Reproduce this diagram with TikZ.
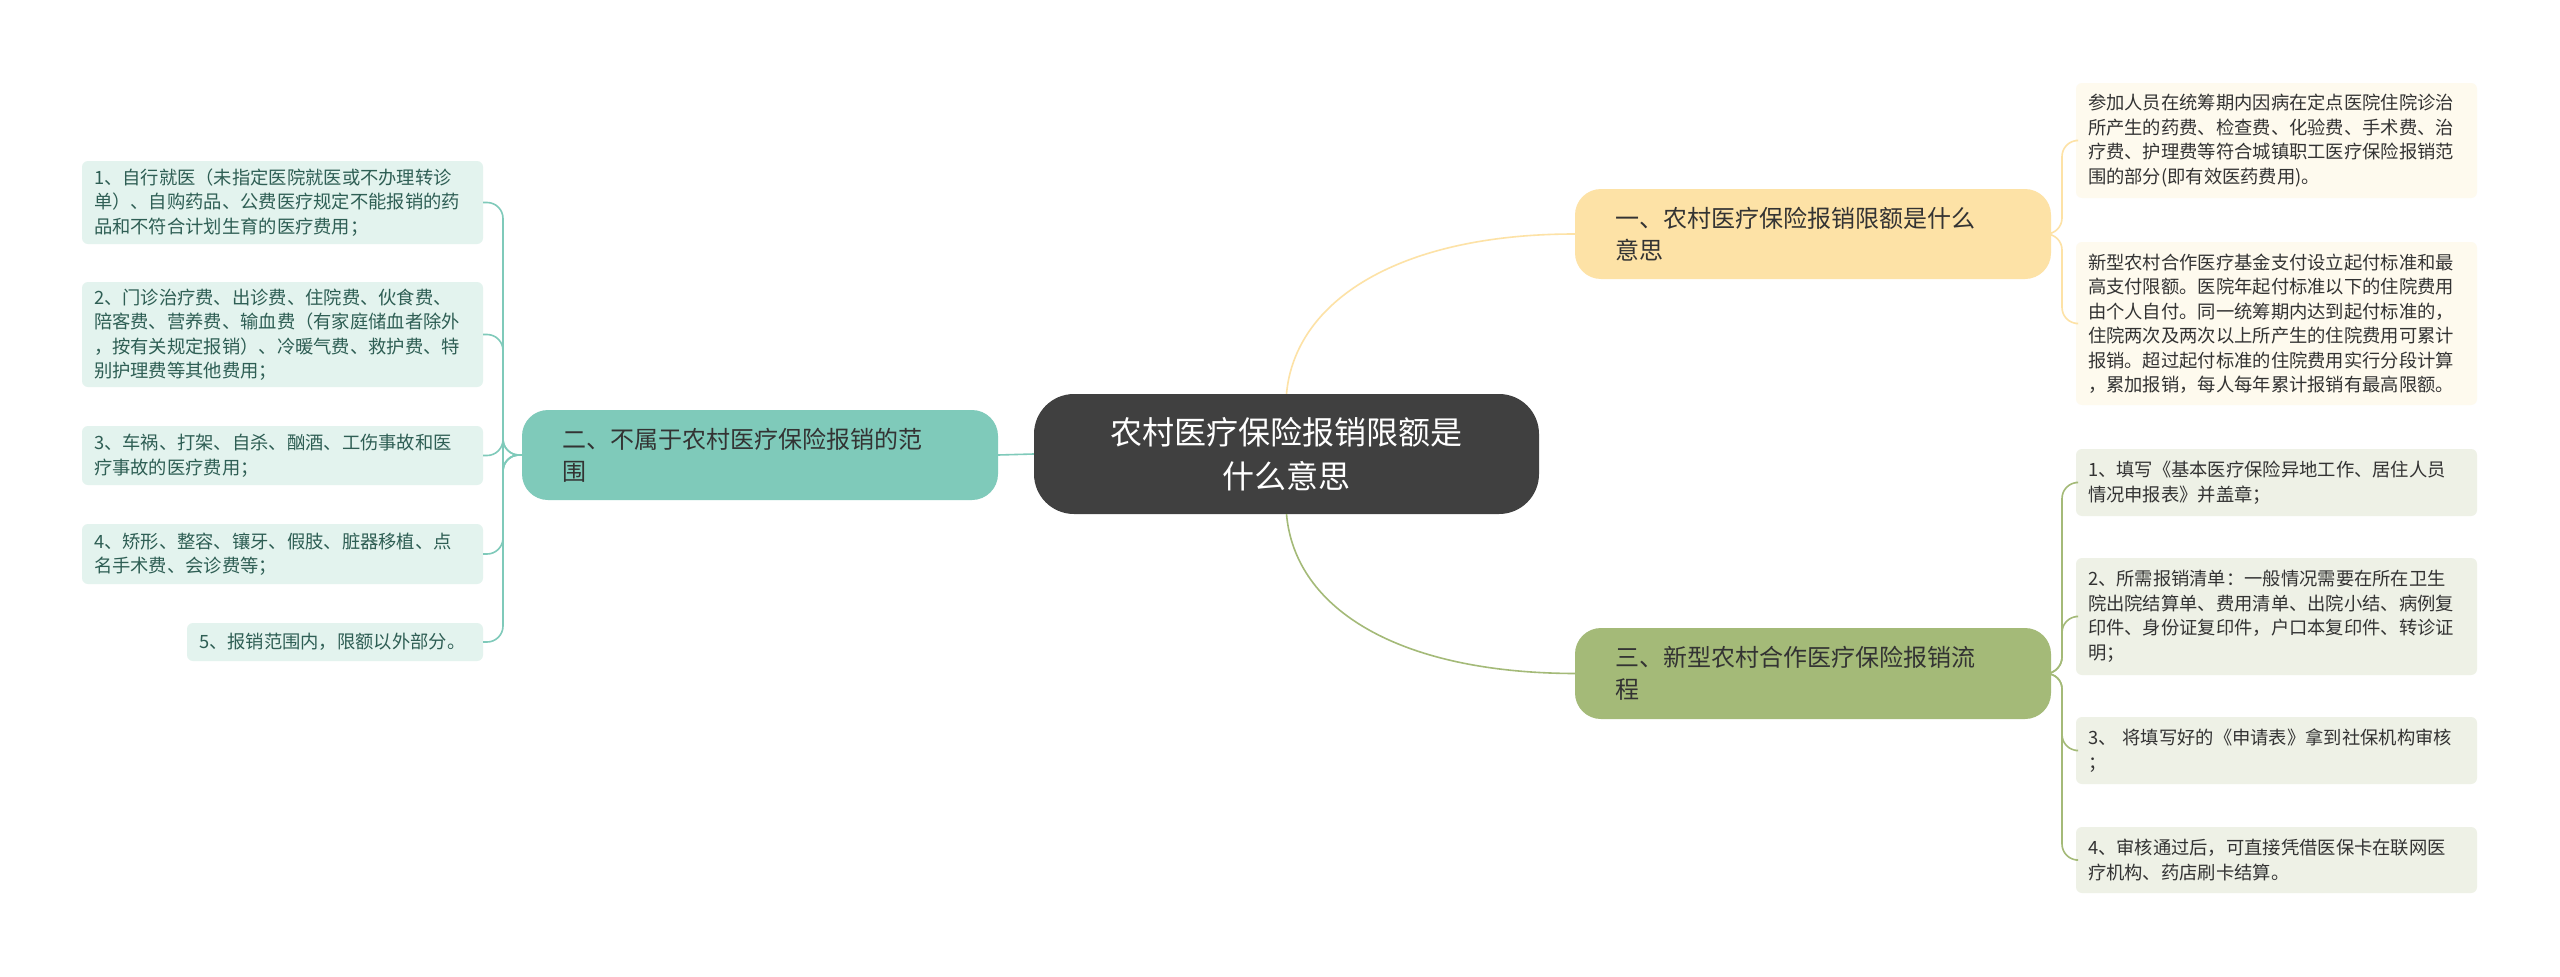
\documentclass[tikz,border=0pt]{standalone}
\usepackage{fontspec}
\setmainfont{Noto Sans CJK SC}
\begin{document}
\begin{tikzpicture}[x=1pt,y=-1pt,
  leaf/.style={rounded corners=6pt, inner sep=0pt, font=\fontsize{18.3}{24.5}\selectfont, align=left},
  lleaf/.style={leaf, fill=lfill, text=ltext},
  r1leaf/.style={leaf, fill=r1fill, text=dtext},
  r3leaf/.style={leaf, fill=r3fill, text=dtext},
  branch/.style={rounded corners=26pt, inner sep=0pt, font=\fontsize{24}{32}\selectfont, align=left},
  conn/.style={line width=1.6pt}]
\definecolor{lfill}{HTML}{E3F3EE}
\definecolor{ltext}{HTML}{2E5E54}
\definecolor{r1fill}{HTML}{FEFAEE}
\definecolor{r3fill}{HTML}{EEF1E6}
\definecolor{dtext}{HTML}{333333}
\definecolor{teal}{HTML}{7FCABA}
\definecolor{peach}{HTML}{FDE2A6}
\definecolor{olive}{HTML}{A4BA78}
\definecolor{cdark}{HTML}{404040}
\useasboundingbox[fill=white] (0,0) rectangle (2560,977);
\newcommand{\bx}[7]{\node[#1, minimum width=#4-#2, minimum height=#5-#3, text width=#4-#2-#7] (#6) at ({(#2+#4)/2},{(#3+#5)/2})}
% center
\node[branch, fill=cdark, text=white, minimum width=505, minimum height=120, rounded corners=40pt, align=center, font=\fontsize{32}{44}\selectfont] (c) at (1286.5,454) {农村医疗保险报销限额是\\什么意思};
% branches
\bx{branch, fill=teal, text=dtext}{522}{410}{998}{500}{lb}{80} {二、不属于农村医疗保险报销的范\\围};
\bx{branch, fill=peach, text=dtext}{1575}{189}{2051}{279}{b1}{80} {一、农村医疗保险报销限额是什么\\意思};
\bx{branch, fill=olive, text=dtext}{1575}{628}{2051}{719}{b3}{80} {三、新型农村合作医疗保险报销流\\程};
% left leaves
\bx{lleaf}{82}{161}{483}{244}{l1}{24} {1、自行就医（未指定医院就医或不办理转诊\\单）、自购药品、公费医疗规定不能报销的药\\品和不符合计划生育的医疗费用；};
\bx{lleaf}{82}{282}{483}{387}{l2}{24} {2、门诊治疗费、出诊费、住院费、伙食费、\\陪客费、营养费、输血费（有家庭储血者除外\\，按有关规定报销）、冷暖气费、救护费、特\\别护理费等其他费用；};
\bx{lleaf}{82}{426}{483}{485}{l3}{24} {3、车祸、打架、自杀、酗酒、工伤事故和医\\疗事故的医疗费用；};
\bx{lleaf}{82}{524}{483}{584}{l4}{24} {4、矫形、整容、镶牙、假肢、脏器移植、点\\名手术费、会诊费等；};
\bx{lleaf}{187}{623}{483}{661}{l5}{24} {5、报销范围内，限额以外部分。};
% right leaves
\bx{r1leaf}{2076}{83}{2477}{198}{ra}{24} {参加人员在统筹期内因病在定点医院住院诊治\\所产生的药费、检查费、化验费、手术费、治\\疗费、护理费等符合城镇职工医疗保险报销范\\围的部分(即有效医药费用)。};
\bx{r1leaf}{2076}{242}{2477}{405}{rb}{24} {新型农村合作医疗基金支付设立起付标准和最\\高支付限额。医院年起付标准以下的住院费用\\由个人自付。同一统筹期内达到起付标准的，\\住院两次及两次以上所产生的住院费用可累计\\报销。超过起付标准的住院费用实行分段计算\\，累加报销，每人每年累计报销有最高限额。};
\bx{r3leaf}{2076}{449}{2477}{516}{s1}{24} {1、填写《基本医疗保险异地工作、居住人员\\情况申报表》并盖章；};
\bx{r3leaf}{2076}{558}{2477}{675}{s2}{24} {2、所需报销清单：一般情况需要在所在卫生\\院出院结算单、费用清单、出院小结、病例复\\印件、身份证复印件，户口本复印件、转诊证\\明；};
\bx{r3leaf}{2076}{717}{2477}{784}{s3}{24} {3、 将填写好的《申请表》拿到社保机构审核\\；};
\bx{r3leaf}{2076}{827}{2477}{893}{s4}{24} {4、审核通过后，可直接凭借医保卡在联网医\\疗机构、药店刷卡结算。};
% connectors
\draw[conn, teal] (c.west) -- (lb.east);
\draw[conn, peach] (c.north) .. controls (1295,300) and (1400,234) .. (b1.west);
\draw[conn, olive] (c.south) .. controls (1295,610) and (1400,673) .. (b3.west);
\foreach \n in {l1,l2,l3,l4,l5}
  \draw[conn, teal, rounded corners=16pt] (lb.west) -- (503,455) |- (\n.east);
\foreach \n in {ra,rb}
  \draw[conn, peach, rounded corners=16pt] (b1.east) -- (2062,234) |- (\n.west);
\foreach \n in {s1,s2,s3,s4}
  \draw[conn, olive, rounded corners=16pt] (b3.east) -- (2062,673) |- (\n.west);
\end{tikzpicture}
\end{document}
